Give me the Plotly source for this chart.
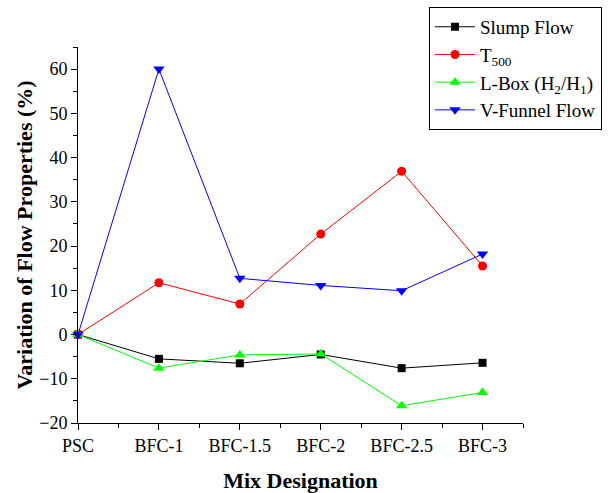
import plotly.graph_objects as go

categories = ["PSC", "BFC-1", "BFC-1.5", "BFC-2", "BFC-2.5", "BFC-3"]
slump_flow = [0, -5.5, -6.5, -4.5, -7.6, -6.4]
t500 = [0, 11.7, 6.9, 22.7, 36.9, 15.5]
l_box = [0, -7.6, -4.6, -4.4, -16.1, -13.1]
v_funnel = [0, 60, 12.7, 11.1, 9.9, 18.2]

x = list(range(len(categories)))

font = "Liberation Serif, Times New Roman, serif"

fig = go.Figure()
series = [
    ("Slump Flow", slump_flow, "#000000", "square", 8),
    ("T<sub>500</sub>", t500, "#ff0000", "circle", 9),
    ("L-Box (H<sub>2</sub>/H<sub>1</sub>)", l_box, "#00ff00", "triangle-up", 10),
    ("V-Funnel Flow", v_funnel, "#0000ff", "triangle-down", 10),
]
for name, vals, color, sym, sz in series:
    fig.add_trace(go.Scatter(
        x=x, y=vals, name=name, mode="lines+markers",
        line=dict(color=color, width=1),
        marker=dict(symbol=sym, size=sz, color=color),
        cliponaxis=False,
    ))

fig.update_layout(
    width=613, height=493,
    margin=dict(l=78, r=90, t=47, b=70, autoexpand=False),
    paper_bgcolor="white", plot_bgcolor="white",
    font=dict(family=font, size=18, color="black"),
    showlegend=True,
    legend=dict(
        xref="container", yref="container",
        x=0.982, y=0.986, xanchor="right", yanchor="top",
        bordercolor="black", borderwidth=1, bgcolor="white",
        font=dict(family=font, size=19),
        tracegroupgap=0, itemwidth=40,
    ),
    xaxis=dict(
        range=[0, 5.5], tickvals=x, ticktext=categories,
        showline=True, linecolor="black", linewidth=1,
        ticks="outside", ticklen=6, tickcolor="black",
        minor=dict(tickvals=[0.5, 1.5, 2.5, 3.5, 4.5, 5.5], ticks="outside", ticklen=4, tickcolor="black"),
        showgrid=False, zeroline=False, automargin=False,
        title=dict(text="<b>Mix Designation</b>", font=dict(family=font, size=22), standoff=20),
        tickfont=dict(family=font, size=18),
    ),
    yaxis=dict(
        range=[-20, 65], tickvals=[-20, -10, 0, 10, 20, 30, 40, 50, 60],
        showline=True, linecolor="black", linewidth=1,
        ticks="outside", ticklen=6, tickcolor="black",
        minor=dict(dtick=5, ticks="outside", ticklen=4, tickcolor="black"),
        showgrid=False, zeroline=False, automargin=False,
        title=dict(text="<b>Variation of Flow Properties (%)</b>", font=dict(family=font, size=22), standoff=0),
        tickfont=dict(family=font, size=18),
    ),
)

fig.write_html("out.html")
